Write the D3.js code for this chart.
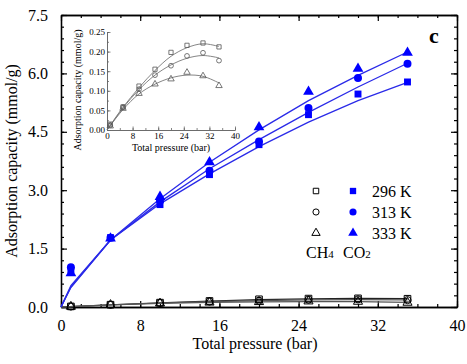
<!DOCTYPE html>
<html lang="en">
<head>
<meta charset="utf-8">
<title>Adsorption capacity</title>
<script src="https://d3js.org/d3.v7.min.js"></script>
<style>
  body { margin: 0; background: #fff; }
  svg text { font-family: "Liberation Serif", "Times New Roman", serif; fill: #000; }
</style>
</head>
<body>
<script>
// data
var pressure = [1, 5, 10, 15, 20, 25, 30, 35];
var fitPressure = [0, 1, 5, 10, 15, 20, 25, 30, 35];
var temps = ["296 K", "313 K", "333 K"];

var co2_296 = [0.95, 1.78, 2.63, 3.40, 4.17, 4.94, 5.47, 5.78];
var co2_313 = [1.02, 1.78, 2.72, 3.50, 4.25, 5.11, 5.88, 6.25];
var co2_333 = [0.87, 1.76, 2.83, 3.72, 4.62, 5.53, 6.12, 6.53];
var co2Fit_296 = [0, 0.50, 1.72, 2.65, 3.42, 4.12, 4.75, 5.30, 5.77];
var co2Fit_313 = [0, 0.52, 1.72, 2.70, 3.55, 4.30, 5.00, 5.65, 6.26];
var co2Fit_333 = [0, 0.55, 1.72, 2.78, 3.72, 4.55, 5.30, 5.95, 6.55];

var ch4_296 = [0.015, 0.059, 0.112, 0.155, 0.198, 0.216, 0.222, 0.212];
var ch4_313 = [0.012, 0.058, 0.104, 0.140, 0.164, 0.189, 0.197, 0.177];
var ch4_333 = [0.010, 0.055, 0.093, 0.117, 0.130, 0.147, 0.138, 0.113];
var ch4Fit_296 = [0, 0.012, 0.058, 0.108, 0.152, 0.188, 0.210, 0.220, 0.213];
var ch4Fit_313 = [0, 0.011, 0.056, 0.103, 0.140, 0.166, 0.183, 0.190, 0.184];
var ch4Fit_333 = [0, 0.011, 0.052, 0.092, 0.117, 0.133, 0.140, 0.137, 0.120];

var xTicks = [0, 8, 16, 24, 32, 40];
var yTicks = [0, 1.5, 3.0, 4.5, 6.0, 7.5];
var insetYTicks = [0, 0.05, 0.10, 0.15, 0.20, 0.25];

var co2 = [co2_296, co2_313, co2_333];
var co2Fit = [co2Fit_296, co2Fit_313, co2Fit_333];
var ch4 = [ch4_296, ch4_313, ch4_333];
var ch4Fit = [ch4Fit_296, ch4Fit_313, ch4Fit_333];
var shapes = [d3.symbolSquare, d3.symbolCircle, d3.symbolTriangle];
var shapeSize = [44, 40, 36];

var svg = d3.select("body").append("svg").attr("width", 467).attr("height", 364);

var margin = { top: 15, right: 10, bottom: 57, left: 61 };
var w = 467 - margin.left - margin.right;   // 396
var h = 364 - margin.top - margin.bottom;   // 292
var g = svg.append("g").attr("transform", "translate(" + margin.left + "," + margin.top + ")");

var x = d3.scaleLinear().domain([0, 40]).range([0, w]);
var y = d3.scaleLinear().domain([0, 7.5]).range([h, 0]);

var minorX = d3.range(0, 41, 2);
var minorY = d3.range(0, 7.51, 0.3).map(function(v) { return +v.toFixed(1); });

// axes, ticks inward and mirrored
function styleAxis(sel) {
    sel.select(".domain").attr("stroke", "#000").attr("stroke-width", 1.3);
    sel.selectAll(".tick line").attr("stroke", "#000").attr("stroke-width", 1.2);
}
g.append("g").attr("transform", "translate(0," + h + ")")
    .call(d3.axisBottom(x).tickValues(minorX).tickSize(-3).tickFormat("").tickSizeOuter(0)).call(styleAxis);
g.append("g").attr("transform", "translate(0," + h + ")")
    .call(d3.axisBottom(x).tickValues(xTicks).tickSize(-6).tickPadding(13).tickSizeOuter(0))
    .call(styleAxis)
    .selectAll("text").attr("font-size", 16).attr("font-family", "Liberation Serif");
g.append("g")
    .call(d3.axisTop(x).tickValues(minorX).tickSize(-3).tickFormat("").tickSizeOuter(0)).call(styleAxis);
g.append("g")
    .call(d3.axisTop(x).tickValues(xTicks).tickSize(-6).tickFormat("").tickSizeOuter(0)).call(styleAxis);

g.append("g")
    .call(d3.axisLeft(y).tickValues(minorY).tickSize(-3).tickFormat("").tickSizeOuter(0)).call(styleAxis);
g.append("g")
    .call(d3.axisLeft(y).tickValues(yTicks).tickSize(-6).tickPadding(13).tickFormat(d3.format(".1f")).tickSizeOuter(0))
    .call(styleAxis)
    .selectAll("text").attr("font-size", 16).attr("font-family", "Liberation Serif");
g.append("g").attr("transform", "translate(" + w + ",0)")
    .call(d3.axisRight(y).tickValues(minorY).tickSize(-3).tickFormat("").tickSizeOuter(0)).call(styleAxis);
g.append("g").attr("transform", "translate(" + w + ",0)")
    .call(d3.axisRight(y).tickValues(yTicks).tickSize(-6).tickFormat("").tickSizeOuter(0)).call(styleAxis);

// axis titles
g.append("text")
    .attr("x", w / 2 - 4).attr("y", h + 42)
    .attr("text-anchor", "middle").attr("font-size", 16)
    .text("Total pressure (bar)");
g.append("text")
    .attr("transform", "rotate(-90)")
    .attr("x", -h / 2).attr("y", -44)
    .attr("text-anchor", "middle").attr("font-size", 16)
    .text("Adsorption capacity (mmol/g)");

// panel letter
svg.append("text")
    .attr("x", 434).attr("y", 43)
    .attr("text-anchor", "middle").attr("font-size", 22).attr("font-weight", "bold")
    .text("c");

// CH4 in the main plot
var line = d3.line().x(function(d) { return x(d[0]); }).y(function(d) { return y(d[1]); });
ch4Fit.forEach(function(s, k) {
    g.append("path")
        .datum(fitPressure.map(function(p, i) { return [p, s[i]]; }))
        .attr("d", line)
        .attr("fill", "none").attr("stroke", k === 0 ? "#222" : "#555").attr("stroke-width", 1.2);
});
ch4.forEach(function(s, k) {
    g.selectAll(".ch4m" + k)
        .data(pressure.map(function(p, i) { return [p, s[i]]; }))
        .enter().append("path")
        .attr("transform", function(d) { return "translate(" + x(d[0]) + "," + y(d[1]) + ")"; })
        .attr("d", d3.symbol().type(shapes[k]).size(shapeSize[k]))
        .attr("fill", "none").attr("stroke", "#000").attr("stroke-width", 1);
});

// CO2 fits and points
co2Fit.forEach(function(s) {
    g.append("path")
        .datum(fitPressure.map(function(p, i) { return [p, s[i]]; }))
        .attr("d", line)
        .attr("fill", "none").attr("stroke", "#2a2ae8").attr("stroke-width", 1.3);
});
co2.forEach(function(s, k) {
    g.selectAll(".co2m" + k)
        .data(pressure.map(function(p, i) { return [p, s[i]]; }))
        .enter().append("path")
        .attr("transform", function(d) { return "translate(" + x(d[0]) + "," + y(d[1]) + ")"; })
        .attr("d", d3.symbol().type(shapes[k]).size([48, 50, 50][k]))
        .attr("fill", "#0000ff");
});

// legend
var leg = svg.append("g");
temps.forEach(function(t, k) {
    var ly = 191 + k * 21;
    leg.append("path")
        .attr("transform", "translate(316," + ly + ")")
        .attr("d", d3.symbol().type(shapes[k]).size(30))
        .attr("fill", "none").attr("stroke", "#000").attr("stroke-width", 1);
    leg.append("path")
        .attr("transform", "translate(353," + ly + ")")
        .attr("d", d3.symbol().type(shapes[k]).size(40))
        .attr("fill", "#0000ff");
    leg.append("text")
        .attr("x", 372).attr("y", ly + 6)
        .attr("font-size", 16)
        .text(t);
});
var ch4Lab = leg.append("text").attr("x", 306).attr("y", 258).attr("font-size", 16);
ch4Lab.append("tspan").text("CH");
ch4Lab.append("tspan").attr("font-size", 11).text("4");
var co2Lab = leg.append("text").attr("x", 343).attr("y", 258).attr("font-size", 16);
co2Lab.append("tspan").text("CO");
co2Lab.append("tspan").attr("font-size", 11).text("2");

// inset
var ix = d3.scaleLinear().domain([0, 40]).range([107, 235]);
var iy = d3.scaleLinear().domain([0, 0.25]).range([130, 32]);
var inset = svg.append("g");

function styleInset(sel) {
    sel.select(".domain").attr("stroke", "#666").attr("stroke-width", 0.8);
    sel.selectAll(".tick line").attr("stroke", "#666").attr("stroke-width", 0.8);
    sel.selectAll("text").attr("font-size", 9).attr("font-family", "Liberation Serif").attr("fill", "#222");
}
inset.append("g").attr("transform", "translate(0,130)")
    .call(d3.axisBottom(ix).tickValues(d3.range(0, 41, 4)).tickSize(-2).tickFormat("").tickSizeOuter(0)).call(styleInset);
inset.append("g").attr("transform", "translate(0,130)")
    .call(d3.axisBottom(ix).tickValues(xTicks).tickSize(-3.5).tickPadding(3).tickSizeOuter(0)).call(styleInset);
inset.append("g").attr("transform", "translate(107,0)")
    .call(d3.axisLeft(iy).tickValues(d3.range(0, 0.26, 0.025)).tickSize(-2).tickFormat("").tickSizeOuter(0)).call(styleInset);
inset.append("g").attr("transform", "translate(107,0)")
    .call(d3.axisLeft(iy).tickValues(insetYTicks).tickSize(-3.5).tickPadding(2).tickFormat(d3.format(".2f")).tickSizeOuter(0))
    .call(styleInset);

inset.append("text")
    .attr("x", 171).attr("y", 151)
    .attr("text-anchor", "middle").attr("font-size", 10).attr("fill", "#222")
    .text("Total pressure (bar)");
inset.append("text")
    .attr("transform", "rotate(-90)")
    .attr("x", -90).attr("y", 81)
    .attr("text-anchor", "middle").attr("font-size", 10).attr("fill", "#222")
    .text("Adsorption capacity (mmol/g)");

var iline = d3.line().curve(d3.curveCatmullRom)
    .x(function(d) { return ix(d[0]); }).y(function(d) { return iy(d[1]); });
ch4Fit.forEach(function(s) {
    inset.append("path")
        .datum(fitPressure.map(function(p, i) { return [p, s[i]]; }))
        .attr("d", iline)
        .attr("fill", "none").attr("stroke", "#777").attr("stroke-width", 0.9);
});
ch4.forEach(function(s, k) {
    inset.selectAll(".ch4i" + k)
        .data(pressure.map(function(p, i) { return [p, s[i]]; }))
        .enter().append("path")
        .attr("transform", function(d) { return "translate(" + ix(d[0]) + "," + iy(d[1]) + ")"; })
        .attr("d", d3.symbol().type(shapes[k]).size(18))
        .attr("fill", "none").attr("stroke", "#555").attr("stroke-width", 0.8);
});
</script>
</body>
</html>
